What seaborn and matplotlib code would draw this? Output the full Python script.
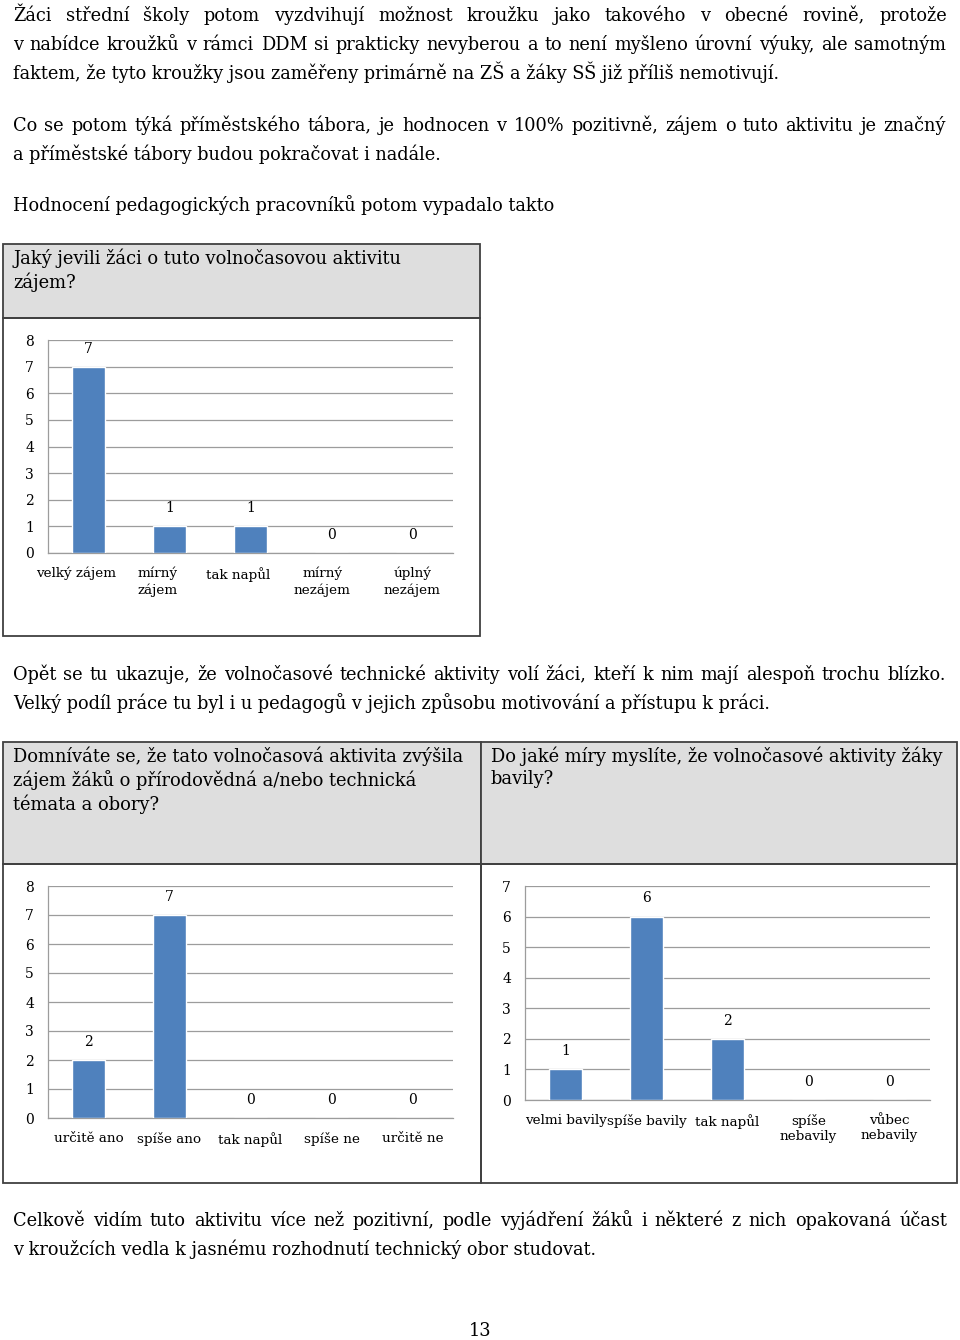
import matplotlib
matplotlib.use("Agg")
import matplotlib.pyplot as plt
from matplotlib.patches import Rectangle
from matplotlib.transforms import ScaledTranslation
import seaborn as sns

# ---------------- data ----------------
chart1_title = "Jaký jevili žáci o tuto volnočasovou aktivitu\nzájem?"
chart1_cats = ["velký zájem", "mírný\nzájem", "tak napůl", "mírný\nnezájem", "úplný\nnezájem"]
chart1_vals = [7, 1, 1, 0, 0]
chart1_yticks = [0, 1, 2, 3, 4, 5, 6, 7, 8]

chart2_title = "Domníváte se, že tato volnočasová aktivita zvýšila\nzájem žáků o přírodovědná a/nebo technická\ntémata a obory?"
chart2_cats = ["určitě ano", "spíše ano", "tak napůl", "spíše ne", "určitě ne"]
chart2_vals = [2, 7, 0, 0, 0]
chart2_yticks = [0, 1, 2, 3, 4, 5, 6, 7, 8]

chart3_title = "Do jaké míry myslíte, že volnočasové aktivity žáky\nbavily?"
chart3_cats = ["velmi bavily", "spíše bavily", "tak napůl", "spíše\nnebavily", "vůbec\nnebavily"]
chart3_vals = [1, 6, 2, 0, 0]
chart3_yticks = [0, 1, 2, 3, 4, 5, 6, 7]

para_justified_1 = [
    "Žáci střední školy potom vyzdvihují možnost kroužku jako takového v obecné rovině, protože",
    "v nabídce kroužků v rámci DDM si prakticky nevyberou a to není myšleno úrovní výuky, ale samotným",
]
para_left_1 = "faktem, že tyto kroužky jsou zaměřeny primárně na ZŠ a žáky SŠ již příliš nemotivují."
para_justified_2 = "Co se potom týká příměstského tábora, je hodnocen v 100% pozitivně, zájem o tuto aktivitu je značný"
para_left_2 = "a příměstské tábory budou pokračovat i nadále."
para_3 = "Hodnocení pedagogických pracovníků potom vypadalo takto"
para_justified_4 = "Opět se tu ukazuje, že volnočasové technické aktivity volí žáci, kteří k nim mají alespoň trochu blízko."
para_left_4 = "Velký podíl práce tu byl i u pedagogů v jejich způsobu motivování a přístupu k práci."
para_justified_5 = "Celkově vidím tuto aktivitu více než pozitivní, podle vyjádření žáků i některé z nich opakovaná účast"
para_left_5 = "v kroužcích vedla k jasnému rozhodnutí technický obor studovat."
page_number = "13"

# ---------------- style ----------------
W, H = 960, 1340
FONT = "DejaVu Serif"
BODY = 12.8
TITLE = 12.9
BAR = "#4f81bd"
GRID = "#9c9c9c"
BORDER = "#404040"
TITLEFILL = "#dedede"
BASE = 6  # px from visual line centre to baseline

sns.set_theme(style="white")
plt.rcParams["font.family"] = [FONT, "DejaVu Sans"]
plt.rcParams["text.color"] = "black"
plt.rcParams["xtick.color"] = "black"
plt.rcParams["ytick.color"] = "black"

fig = plt.figure(figsize=(W / 100, H / 100), dpi=100)
fig.patch.set_facecolor("white")
renderer = fig.canvas.get_renderer()


def fx(x):
    return x / W


def fy(y):
    return 1 - y / H


def left_text(text, x, y, size=BODY, **kw):
    return fig.text(fx(x), fy(y + BASE), text, fontsize=size, va="baseline",
                    ha="left", color="black", **kw)


def justified(text, x0, x1, y, size=BODY):
    words = text.split()
    objs = [fig.text(0, 0, w, fontsize=size, va="baseline", ha="left", color="black")
            for w in words]
    widths = [o.get_window_extent(renderer).width for o in objs]
    gap = (x1 - x0 - sum(widths)) / (len(words) - 1)
    x = x0
    for o, w in zip(objs, widths):
        o.set_position((fx(x), fy(y + BASE)))
        x += w + gap


def box(x0, y0, x1, y1, fill="none", lw=1.3):
    fig.add_artist(Rectangle((fx(x0), fy(y1)), fx(x1) - fx(x0), fy(y0) - fy(y1),
                             transform=fig.transFigure, facecolor=fill,
                             edgecolor=BORDER, linewidth=lw, zorder=1))


def bar_chart(cats, vals, yticks, left, right, top, bottom, shifts=None, aligns=None):
    ax = fig.add_axes([fx(left), fy(bottom), fx(right) - fx(left), fy(top) - fy(bottom)])
    ax.set_facecolor("none")
    sns.barplot(x=list(range(len(cats))), y=vals, color=BAR, saturation=1,
                width=0.4, ax=ax, zorder=3)
    ax.set_ylim(yticks[0], yticks[-1])
    ax.set_xlim(-0.5, len(cats) - 0.5)
    ax.set_yticks(yticks)
    ax.set_yticklabels([str(t) for t in yticks], fontsize=10)
    ax.set_xticks(range(len(cats)))
    ax.set_xticklabels(cats, fontsize=9.7, linespacing=1.25)
    ax.tick_params(axis="y", which="both", left=True, length=0,
                   labelcolor="black", pad=10)
    ax.tick_params(axis="x", length=0, pad=10, labelcolor="black")
    ax.grid(axis="y", color=GRID, linewidth=0.9, zorder=0)
    ax.set_axisbelow(True)
    for s in ["top", "right"]:
        ax.spines[s].set_visible(False)
    for s in ["left", "bottom"]:
        ax.spines[s].set_color(GRID)
        ax.spines[s].set_linewidth(0.9)
    for c in ax.containers:
        ax.bar_label(c, labels=[str(v) for v in vals], padding=8, fontsize=10,
                     color="black")
    if shifts is not None:
        for lab, dx in zip(ax.get_xticklabels(), shifts):
            lab.set_transform(lab.get_transform() + ScaledTranslation(dx / 100, 0, fig.dpi_scale_trans))
    if aligns is not None:
        for lab, a in zip(ax.get_xticklabels(), aligns):
            lab.set_multialignment(a)
    ax.set_xlabel("")
    ax.set_ylabel("")
    return ax


# ---------------- body text ----------------
justified(para_justified_1[0], 13, 947, 15)
justified(para_justified_1[1], 13, 946, 44)
left_text(para_left_1, 13, 73)
justified(para_justified_2, 13, 946, 125)
left_text(para_left_2, 13, 154)
left_text(para_3, 13, 205)
justified(para_justified_4, 13, 946, 674)
left_text(para_left_4, 13, 703)
justified(para_justified_5, 13, 947, 1220)
left_text(para_left_5, 13, 1249)
fig.text(fx(480), fy(1330 + BASE), page_number, fontsize=BODY, ha="center", va="baseline")

# ---------------- chart 1 ----------------
box(3, 244, 480, 318, fill=TITLEFILL)
box(3, 318, 480, 636)
fig.text(fx(13), fy(248), chart1_title, fontsize=TITLE, ha="left", va="top",
         linespacing=1.3)
bar_chart(chart1_cats, chart1_vals, chart1_yticks, 48, 453, 340, 553,
          shifts=[-12, -12, -12, -9, 0],
          aligns=["center", "left", "center", "center", "center"])

# ---------------- charts 2 & 3 ----------------
box(3, 742, 481, 864, fill=TITLEFILL)
box(481, 742, 957, 864, fill=TITLEFILL)
box(3, 864, 481, 1183)
box(481, 864, 957, 1183)
fig.text(fx(13), fy(746), chart2_title, fontsize=TITLE, ha="left", va="top",
         linespacing=1.3)
fig.text(fx(491), fy(746), chart3_title, fontsize=TITLE, ha="left", va="top",
         linespacing=1.3)
bar_chart(chart2_cats, chart2_vals, chart2_yticks, 48, 453, 886, 1118)
bar_chart(chart3_cats, chart3_vals, chart3_yticks, 525, 930, 886, 1100)

fig.savefig("out.png", dpi=100, facecolor="white")
